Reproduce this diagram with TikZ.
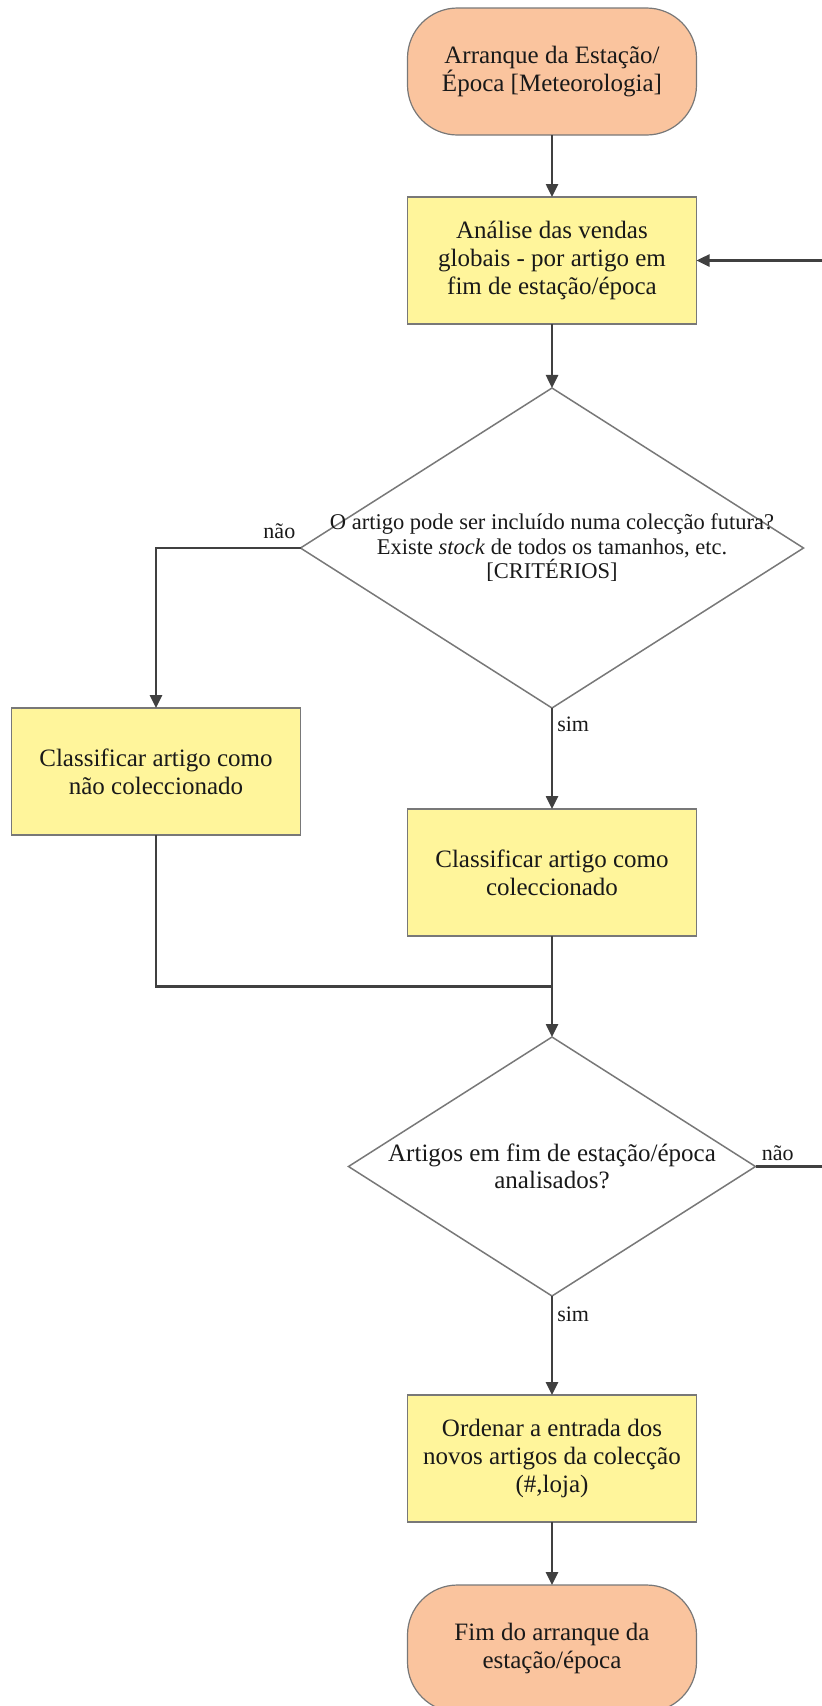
\documentclass[tikz,border=0pt]{standalone}
\usepackage{fontspec}
\setmainfont{Liberation Serif}
\usepackage{tikz}
\usetikzlibrary{arrows.meta,positioning,shapes.geometric}
\definecolor{termfill}{RGB}{250,196,158}
\definecolor{procfill}{RGB}{255,245,155}
\definecolor{linegray}{RGB}{64,64,64}
\definecolor{edgegray}{RGB}{120,120,120}

\begin{document}
\begin{tikzpicture}[node distance=62pt,
  term/.style={draw=edgegray, line width=1.2pt, fill=termfill, rounded corners=50pt, minimum width=289pt, minimum height=127pt, outer sep=0pt, align=center, font=\fontsize{25}{28}\selectfont, text=black!90},
  proc/.style={draw=edgegray, line width=1.5pt, fill=procfill, minimum width=289pt, minimum height=127pt, outer sep=0pt, align=center, font=\fontsize{25}{28}\selectfont, text=black!90},
  dec/.style={draw=edgegray, line width=1.5pt, diamond, inner sep=0pt, outer sep=0pt},
  qtext/.style={align=center, text=black!90},
  lbl/.style={font=\fontsize{22}{24}\selectfont, text=black!90, inner sep=0pt},
  arr/.style={draw=linegray, line width=2.5pt, -{Triangle[length=13pt,width=12pt]}},
  ln/.style={draw=linegray, line width=2.5pt}]
  \useasboundingbox (0,0) rectangle (822pt,-1706pt);
  \node[term] (start) at (552pt,-71.5pt) {Arranque da Estação/\\Época [Meteorologia]};
  \node[proc, below=62pt of start] (analise) {Análise das vendas\\globais - por artigo em\\fim de estação/época};
  \node[dec, below=64pt of analise, minimum width=503pt, minimum height=320pt] (incluir) {};
  \node[qtext, font=\fontsize{22.5}{24.5}\selectfont] (incluirtxt) at (incluir) {O artigo pode ser incluído numa colecção futura?\\Existe \textit{stock} de todos os tamanhos, etc.\\{[CRITÉRIOS]}};
  \node[proc, below left=160pt and 0pt of incluir.west] (naocol) {Classificar artigo como\\não coleccionado};
  \node[proc, below=101pt of incluir] (col) {Classificar artigo como\\coleccionado};
  \node[dec, below=101pt of col, minimum width=407pt, minimum height=259pt] (analisados) {};
  \node[qtext, font=\fontsize{25}{27}\selectfont] (analisadostxt) at (analisados) {Artigos em fim de estação/época\\analisados?};
  \node[proc, below=99pt of analisados] (ordenar) {Ordenar a entrada dos\\novos artigos da colecção\\(\#,loja)};
  \node[term, below=63pt of ordenar] (fim) {Fim do arranque da\\estação/época};
  \coordinate[below=50.5pt of col] (junta);
  \coordinate (margem) at (826pt,0);
  \draw[arr] (start) -- (analise);
  \draw[arr] (analise) -- (incluir);
  \draw[arr] (incluir.west) node[lbl, anchor=south east, xshift=-4pt, yshift=8pt] {não} -| (naocol);
  \draw[arr] (incluir.south) node[lbl, anchor=north west, xshift=4pt, yshift=-8pt] {sim} -- (col);
  \draw[ln] (naocol) |- (junta);
  \draw[arr] (col) -- (analisados);
  \draw[arr] (analisados.south) node[lbl, anchor=north west, xshift=4pt, yshift=-10pt] {sim} -- (ordenar);
  \draw[arr] (ordenar) -- (fim);
  \draw[arr] (analisados.east) node[lbl, anchor=south west, xshift=5pt, yshift=5pt] {não} -| (analise.east -| margem) -- (analise.east);
\end{tikzpicture}
\end{document}
